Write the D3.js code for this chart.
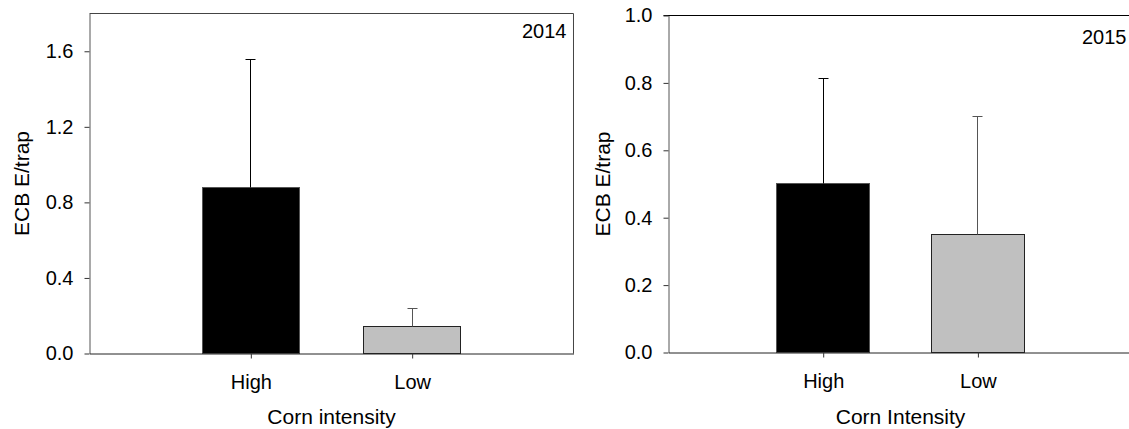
<!DOCTYPE html>
<html>
<head>
<meta charset="utf-8">
<script src="https://cdn.jsdelivr.net/npm/d3@7"></script>
<style>
  body { margin: 0; background: #fff; }
  svg text { font-family: "Liberation Sans", Arial, sans-serif; fill: #000; }
</style>
</head>
<body>
<svg id="chart" width="1129" height="429"></svg>
<script>
// values
var categories = ["High", "Low"];
var catPos = [1, 2];
var means2014 = [0.877, 0.143];
var errs2014 = [0.682, 0.097];
var means2015 = [0.502, 0.350];
var errs2015 = [0.310, 0.349];
var ticks2014 = [0, 0.4, 0.8, 1.2, 1.6];
var ticks2015 = [0, 0.2, 0.4, 0.6, 0.8, 1.0];
var barColors = ["#000000", "#c0c0c0"];
var errColors = ["#000000", "#555555"];

var svg = d3.select("#chart");
var root = svg.append("g").attr("transform", "translate(0.5,0.5)");

/*
panel: left, right, top, bottom = pixel box
ymax = top of y domain
*/
function drawPanel(p) {
	var g = root.append("g");
	var x = d3.scaleLinear().domain([0, 3]).range([p.left, p.left + p.unit * 3]);
	var y = d3.scaleLinear().domain([0, p.ymax]).range([p.bottom, p.top]);
	var bw = x(0.6) - x(0);

	// frame
	if (p.rightFrame) {
		g.append("line")
			.attr("x1", x(3)).attr("x2", x(3))
			.attr("y1", y(p.ymax)).attr("y2", y(0))
			.attr("stroke", "#444");
	}
	g.append("line")
		.attr("x1", p.left - (p.topTick ? 5 : 0)).attr("x2", x(3))
		.attr("y1", y(p.ymax)).attr("y2", y(p.ymax))
		.attr("stroke", p.topColor);

	// bars
	g.selectAll("rect.bar")
		.data(categories)
		.enter().append("rect")
		.attr("class", "bar")
		.attr("x", function(d, i) { return Math.round(x(catPos[i]) - bw / 2); })
		.attr("width", Math.round(bw))
		.attr("y", function(d, i) { return Math.round(y(p.means[i])); })
		.attr("height", function(d, i) { return Math.round(y(0)) - Math.round(y(p.means[i])); })
		.attr("fill", function(d, i) { return barColors[i]; })
		.attr("stroke", function(d, i) { return i == 0 ? "#555" : "#222"; })
		.attr("stroke-width", 1);

	// error bars (upper only)
	var eb = g.selectAll("g.err")
		.data(categories)
		.enter().append("g")
		.attr("class", "err")
		.attr("stroke", function(d, i) { return errColors[i]; });
	eb.append("line")
		.attr("x1", function(d, i) { return Math.round(x(catPos[i])); })
		.attr("x2", function(d, i) { return Math.round(x(catPos[i])); })
		.attr("y1", function(d, i) { return Math.round(y(p.means[i])); })
		.attr("y2", function(d, i) { return Math.round(y(p.means[i] + p.errs[i])); });
	eb.append("line")
		.attr("x1", function(d, i) { return Math.round(x(catPos[i])) - 5; })
		.attr("x2", function(d, i) { return Math.round(x(catPos[i])) + 5; })
		.attr("y1", function(d, i) { return Math.round(y(p.means[i] + p.errs[i])); })
		.attr("y2", function(d, i) { return Math.round(y(p.means[i] + p.errs[i])); });

	// y axis
	var yAxis = d3.axisLeft(y)
		.tickValues(p.ticks)
		.tickFormat(d3.format(".1f"))
		.tickSize(5)
		.tickSizeOuter(0)
		.tickPadding(11);
	var ya = g.append("g")
		.attr("transform", "translate(" + p.left + ",0)")
		.call(yAxis);
	ya.select(".domain").attr("stroke", "#555");
	ya.selectAll(".tick line").attr("stroke", "#333");
	ya.selectAll(".tick text")
		.attr("font-size", "20px")
		.attr("font-family", "Liberation Sans, Arial, sans-serif")
		.attr("fill", "#000");

	// x axis
	var xAxis = d3.axisBottom(x)
		.tickValues(catPos)
		.tickFormat(function(d, i) { return categories[i]; })
		.tickSize(5)
		.tickSizeOuter(0)
		.tickPadding(16);
	var xa = g.append("g")
		.attr("transform", "translate(0," + p.bottom + ")")
		.call(xAxis);
	xa.select(".domain").attr("stroke", "#222");
	xa.selectAll(".tick line").attr("stroke", "#333");
	xa.selectAll(".tick text")
		.attr("font-size", "20px")
		.attr("font-family", "Liberation Sans, Arial, sans-serif")
		.attr("fill", "#000");

	// titles
	g.append("text")
		.attr("transform", "translate(" + p.ylabX + "," + ((p.top + p.bottom) / 2) + ") rotate(-90)")
		.attr("text-anchor", "middle")
		.attr("font-size", "21px")
		.text("ECB E/trap");
	g.append("text")
		.attr("x", x(1.5))
		.attr("y", 423)
		.attr("text-anchor", "middle")
		.attr("font-size", "21px")
		.text(p.xlab);
	g.append("text")
		.attr("x", p.yearX)
		.attr("y", p.yearY)
		.attr("text-anchor", "end")
		.attr("font-size", "20px")
		.text(p.year);
}

drawPanel({
	left: 89, unit: 161.33, top: 13, bottom: 353, ymax: 1.8,
	means: means2014, errs: errs2014, ticks: ticks2014,
	rightFrame: true, topColor: "#444", topTick: false,
	ylabX: 28, xlab: "Corn intensity", year: "2014", yearX: 566, yearY: 37
});

drawPanel({
	left: 668, unit: 154.7, top: 15, bottom: 352, ymax: 1.0,
	means: means2015, errs: errs2015, ticks: ticks2015,
	rightFrame: false, topColor: "#000", topTick: true,
	ylabX: 609, xlab: "Corn Intensity", year: "2015", yearX: 1126, yearY: 43
});
</script>
</body>
</html>
